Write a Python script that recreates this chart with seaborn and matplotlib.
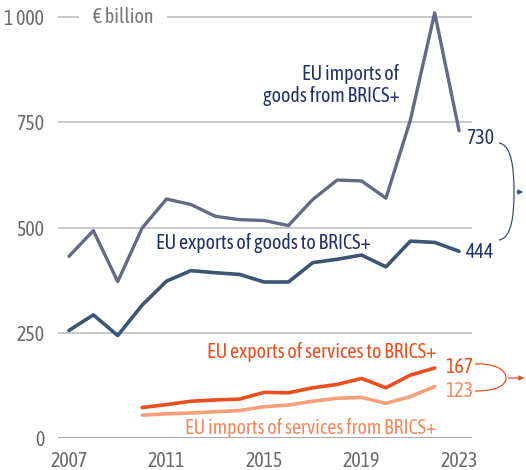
import matplotlib
matplotlib.use("Agg")
import matplotlib.pyplot as plt
from matplotlib import font_manager
from matplotlib.path import Path
from matplotlib.patches import PathPatch, FancyArrowPatch
import seaborn as sns
import pandas as pd

# ---- data ----
years_goods = list(range(2007, 2024))
imports_goods = [432, 493, 372, 499, 568, 555, 527, 519, 517, 505, 567, 613, 611, 570, 755, 1010, 730]
exports_goods = [256, 293, 244, 316, 373, 398, 393, 389, 371, 371, 417, 425, 435, 407, 468, 465, 444]
years_serv = list(range(2010, 2023))
exports_serv = [73, 80, 88, 91, 93, 109, 108, 120, 128, 142, 120, 150, 167]
imports_serv = [55, 58, 60, 63, 66, 75, 79, 88, 95, 97, 83, 99, 123]
yticks = [0, 250, 500, 750, 1000]
ytick_labels = ["0", "250", "500", "750", "1 000"]
xticks = [2007, 2011, 2015, 2019, 2023]

C_IMP_G = "#656a84"
C_EXP_G = "#3c5572"
C_EXP_S = "#e8501f"
C_IMP_S = "#f4a07a"
C_NAVY = "#23336a"
C_TICK = "#6a6a6a"

sns.set_theme(style="white")
names = {f.name for f in font_manager.fontManager.ttflist}
fam = next((n for n in ["Asap Condensed", "Barlow Semi Condensed", "Archivo Narrow"] if n in names), "DejaVu Sans")
plt.rcParams["font.family"] = [fam, "DejaVu Sans"]
FS = 14.4

W, H = 526, 470
fig = plt.figure(figsize=(W / 100, H / 100), dpi=100)
ymax = 1030
ax = fig.add_axes([58 / W, 31.7 / H, (472 - 58) / W, 1 - 31.7 / H - 4.4 / H])

df_g = pd.DataFrame({"year": years_goods, "imp": imports_goods, "exp": exports_goods})
df_s = pd.DataFrame({"year": years_serv, "imp": imports_serv, "exp": exports_serv})

sns.lineplot(data=df_g, x="year", y="imp", color=C_IMP_G, lw=2.4, ax=ax, zorder=3)
sns.lineplot(data=df_g, x="year", y="exp", color=C_EXP_G, lw=2.6, ax=ax, zorder=4)
sns.lineplot(data=df_s, x="year", y="imp", color=C_IMP_S, lw=2.6, ax=ax, zorder=3)
sns.lineplot(data=df_s, x="year", y="exp", color=C_EXP_S, lw=2.6, ax=ax, zorder=4)

ax.set_xlim(2006.55, 2023.53)
ax.set_ylim(0, ymax)
for sp in ax.spines.values():
    sp.set_visible(False)
for v in yticks:
    ax.axhline(v, color="#a0a0a0" if v == 0 else "#c4c4c4", lw=1.3, zorder=1)
ax.set_yticks(yticks)
ax.set_yticklabels(ytick_labels)
ax.set_xticks(xticks)
ax.set_xticklabels([str(x) for x in xticks])
ax.tick_params(axis="both", length=0, labelsize=FS, colors=C_TICK)
ax.tick_params(axis="y", pad=10)
ax.tick_params(axis="x", pad=9)
ax.set_xlabel("")
ax.set_ylabel("")

ax.text(2007.98, 1000, "€ billion", fontsize=FS, color="#777777", va="center", ha="left",
        bbox=dict(facecolor="white", edgecolor="none", pad=10), zorder=2)

ax.text(2020.55, 838, "EU imports of\ngoods from BRICS+", fontsize=FS, color=C_NAVY,
        ha="right", va="center", linespacing=1.1)
ax.text(2010.55, 464, "EU exports of goods to BRICS+", fontsize=FS, color=C_NAVY,
        ha="left", va="center")
ax.text(2022.08, 205, "EU exports of services to BRICS+", fontsize=FS, color=C_EXP_S,
        ha="right", va="center")
ax.text(2022.08, 24, "EU imports of services from BRICS+", fontsize=FS, color="#f28a5e",
        ha="right", va="center")

ax.text(2023.3, imports_goods[-1] - 18, str(imports_goods[-1]), fontsize=FS, color=C_NAVY,
        ha="left", va="center", clip_on=False)
ax.text(2023.3, exports_goods[-1] - 2, str(exports_goods[-1]), fontsize=FS, color=C_NAVY,
        ha="left", va="center", clip_on=False)
ax.text(2022.45, exports_serv[-1] + 2, str(exports_serv[-1]), fontsize=FS, color=C_EXP_S,
        ha="left", va="center", clip_on=False)
ax.text(2022.45, imports_serv[-1] - 10, str(imports_serv[-1]), fontsize=FS, color="#f28a5e",
        ha="left", va="center", clip_on=False)

# braces (annotation decorations, figure pixel coordinates)
def P(x, y):
    return (x / W, 1 - y / H)

codes = [Path.MOVETO, Path.CURVE4, Path.CURVE4, Path.CURVE4,
         Path.CURVE4, Path.CURVE4, Path.CURVE4]
verts = [P(499, 143), P(512, 145), P(514, 170), P(514, 192),
         P(514, 214), P(512, 238), P(499, 240)]
fig.patches.append(PathPatch(Path(verts, codes), transform=fig.transFigure,
                             fill=False, edgecolor="#3c4f70", lw=0.9))
fig.add_artist(FancyArrowPatch(P(514, 192), P(526, 192), transform=fig.transFigure,
                               arrowstyle="-|>", mutation_scale=7, color="#3c4f70", lw=0.9))

verts2 = [P(475, 364), P(495, 363), P(506, 370), P(506, 378),
          P(506, 386), P(495, 391), P(475, 391)]
fig.patches.append(PathPatch(Path(verts2, codes), transform=fig.transFigure,
                             fill=False, edgecolor=C_EXP_S, lw=0.9))
fig.add_artist(FancyArrowPatch(P(506, 378), P(527, 378), transform=fig.transFigure,
                               arrowstyle="-|>", mutation_scale=7, color=C_EXP_S, lw=0.9))

fig.savefig("out.png", dpi=100)
